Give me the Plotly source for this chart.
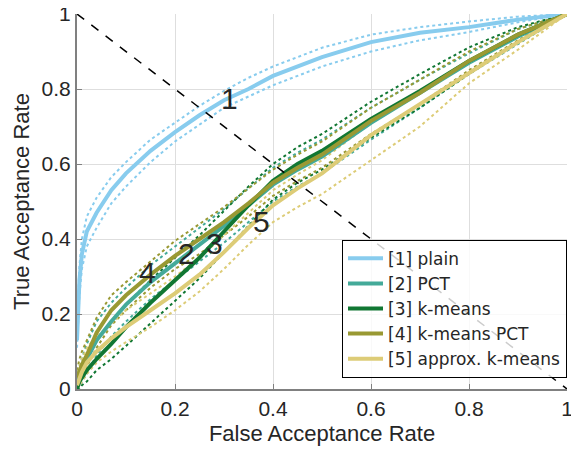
import plotly.graph_objects as go

# False acceptance rate grid (x) shared by all curves
far = [0, 0.005, 0.01, 0.02, 0.04, 0.07, 0.1, 0.15, 0.2, 0.25, 0.3, 0.35,
       0.4, 0.45, 0.5, 0.6, 0.7, 0.8, 0.9, 1.0]

# [1] plain
plain_mean = [0.13, 0.29, 0.36, 0.42, 0.47, 0.53, 0.575, 0.635, 0.685, 0.73, 0.77, 0.80,
              0.835, 0.86, 0.885, 0.925, 0.95, 0.965, 0.985, 1.0]
plain_up = [0.16, 0.33, 0.40, 0.46, 0.51, 0.565, 0.605, 0.665, 0.71, 0.755, 0.795, 0.83,
            0.86, 0.885, 0.91, 0.945, 0.965, 0.98, 0.993, 1.0]
plain_lo = [0.11, 0.25, 0.32, 0.38, 0.43, 0.495, 0.54, 0.605, 0.66, 0.705, 0.75, 0.78,
            0.81, 0.835, 0.86, 0.90, 0.93, 0.952, 0.978, 1.0]

# [2] PCT
pct_mean = [0.01, 0.03, 0.05, 0.08, 0.13, 0.18, 0.225, 0.285, 0.335, 0.385, 0.435, 0.49,
            0.545, 0.585, 0.62, 0.71, 0.79, 0.87, 0.94, 1.0]
pct_up = [0.03, 0.06, 0.08, 0.12, 0.18, 0.23, 0.27, 0.33, 0.38, 0.43, 0.48, 0.535,
          0.59, 0.63, 0.665, 0.75, 0.825, 0.895, 0.96, 1.0]
pct_lo = [0.0, 0.01, 0.02, 0.04, 0.09, 0.14, 0.18, 0.24, 0.29, 0.34, 0.39, 0.445,
          0.50, 0.54, 0.575, 0.665, 0.75, 0.84, 0.92, 1.0]

# [3] k-means
km_mean = [0.0, 0.02, 0.03, 0.05, 0.08, 0.12, 0.165, 0.23, 0.29, 0.35, 0.42, 0.49,
           0.555, 0.60, 0.635, 0.72, 0.795, 0.875, 0.945, 1.0]
km_up = [0.01, 0.04, 0.06, 0.09, 0.13, 0.18, 0.225, 0.29, 0.35, 0.41, 0.475, 0.54,
         0.60, 0.645, 0.68, 0.766, 0.84, 0.911, 0.965, 1.0]
km_lo = [0.0, 0.0, 0.01, 0.02, 0.05, 0.08, 0.115, 0.175, 0.235, 0.295, 0.365, 0.435,
         0.505, 0.55, 0.585, 0.67, 0.75, 0.84, 0.925, 1.0]

# [4] k-means PCT
kmp_mean = [0.03, 0.05, 0.065, 0.09, 0.15, 0.21, 0.25, 0.305, 0.355, 0.40, 0.445, 0.495,
            0.55, 0.59, 0.625, 0.715, 0.79, 0.875, 0.945, 1.0]
kmp_up = [0.05, 0.08, 0.10, 0.13, 0.19, 0.25, 0.285, 0.34, 0.395, 0.44, 0.485, 0.535,
          0.585, 0.625, 0.66, 0.75, 0.825, 0.90, 0.96, 1.0]
kmp_lo = [0.01, 0.03, 0.04, 0.06, 0.11, 0.17, 0.21, 0.27, 0.32, 0.36, 0.41, 0.46,
          0.515, 0.555, 0.59, 0.68, 0.76, 0.85, 0.93, 1.0]

# [5] approx. k-means
akm_mean = [0.01, 0.03, 0.045, 0.07, 0.10, 0.135, 0.165, 0.21, 0.255, 0.305, 0.365, 0.43,
            0.49, 0.535, 0.575, 0.677, 0.76, 0.845, 0.925, 1.0]
akm_up = [0.03, 0.06, 0.08, 0.11, 0.14, 0.175, 0.21, 0.255, 0.30, 0.35, 0.41, 0.47,
          0.53, 0.572, 0.61, 0.71, 0.79, 0.87, 0.945, 1.0]
akm_lo = [0.0, 0.01, 0.02, 0.04, 0.07, 0.10, 0.125, 0.165, 0.21, 0.26, 0.32, 0.385,
          0.445, 0.485, 0.52, 0.61, 0.70, 0.815, 0.905, 1.0]

names = ["[1] plain", "[2] PCT", "[3] k-means", "[4] k-means PCT", "[5] approx. k-means"]
colors = ["#88CCEE", "#44AA99", "#117733", "#999933", "#DDCC77"]
means = [plain_mean, pct_mean, km_mean, kmp_mean, akm_mean]
ups = [plain_up, pct_up, km_up, kmp_up, akm_up]
los = [plain_lo, pct_lo, km_lo, kmp_lo, akm_lo]

# curve label positions (x, y) and text
label_text = ["1", "2", "3", "4", "5"]
label_x = [0.312, 0.224, 0.28, 0.143, 0.377]
label_y = [0.776, 0.362, 0.387, 0.312, 0.447]

diag_x = [0, 1]
diag_y = [1, 0]
ticks = [0, 0.2, 0.4, 0.6, 0.8, 1]
tick_text = ["0", "0.2", "0.4", "0.6", "0.8", "1"]

fig = go.Figure()

for i in range(5):
    for b in (ups[i], los[i]):
        fig.add_trace(go.Scatter(x=far, y=b, mode="lines", showlegend=False,
                                 line=dict(color=colors[i], width=2, dash="dot"),
                                 hoverinfo="skip"))

for i in range(5):
    fig.add_trace(go.Scatter(x=far, y=means[i], mode="lines", name=names[i],
                             line=dict(color=colors[i], width=4)))

fig.add_trace(go.Scatter(x=diag_x, y=diag_y, mode="lines", showlegend=False,
                         line=dict(color="black", width=1.5, dash="dash")))

for t, lx, ly in zip(label_text, label_x, label_y):
    fig.add_annotation(x=lx, y=ly, text=t, showarrow=False,
                       font=dict(size=30, color="#262626", family="Liberation Sans"))

axis_common = dict(
    range=[0, 1], tickvals=ticks, ticktext=tick_text,
    showgrid=True, gridcolor="#dedede", gridwidth=1,
    showline=True, linecolor="#808080", linewidth=2,
    ticks="inside", ticklen=5, tickcolor="#808080", tickwidth=1,
    zeroline=False, tickfont=dict(size=21, color="#262626"),
    automargin=False, ticklabeloverflow="allow",
)

# page body has an 8px default margin, so the figure is shifted by 8px
fig.update_layout(
    width=579, height=454,
    margin=dict(l=69, r=20, t=6, b=73),
    paper_bgcolor="white", plot_bgcolor="white",
    font=dict(family="Liberation Sans", color="#262626"),
    xaxis=dict(title=dict(text="False Acceptance Rate", font=dict(size=22), standoff=6), **axis_common),
    yaxis=dict(title=dict(text="True Acceptance Rate", font=dict(size=22), standoff=6), **axis_common),
    legend=dict(x=1, y=0.03, xanchor="right", yanchor="bottom",
                bgcolor="rgba(255,255,255,0.8)", bordercolor="black", borderwidth=1,
                font=dict(size=17, color="#262626", family="DejaVu Sans"),
                itemwidth=35, tracegroupgap=0),
    showlegend=True,
)

fig.write_html("out.html")
